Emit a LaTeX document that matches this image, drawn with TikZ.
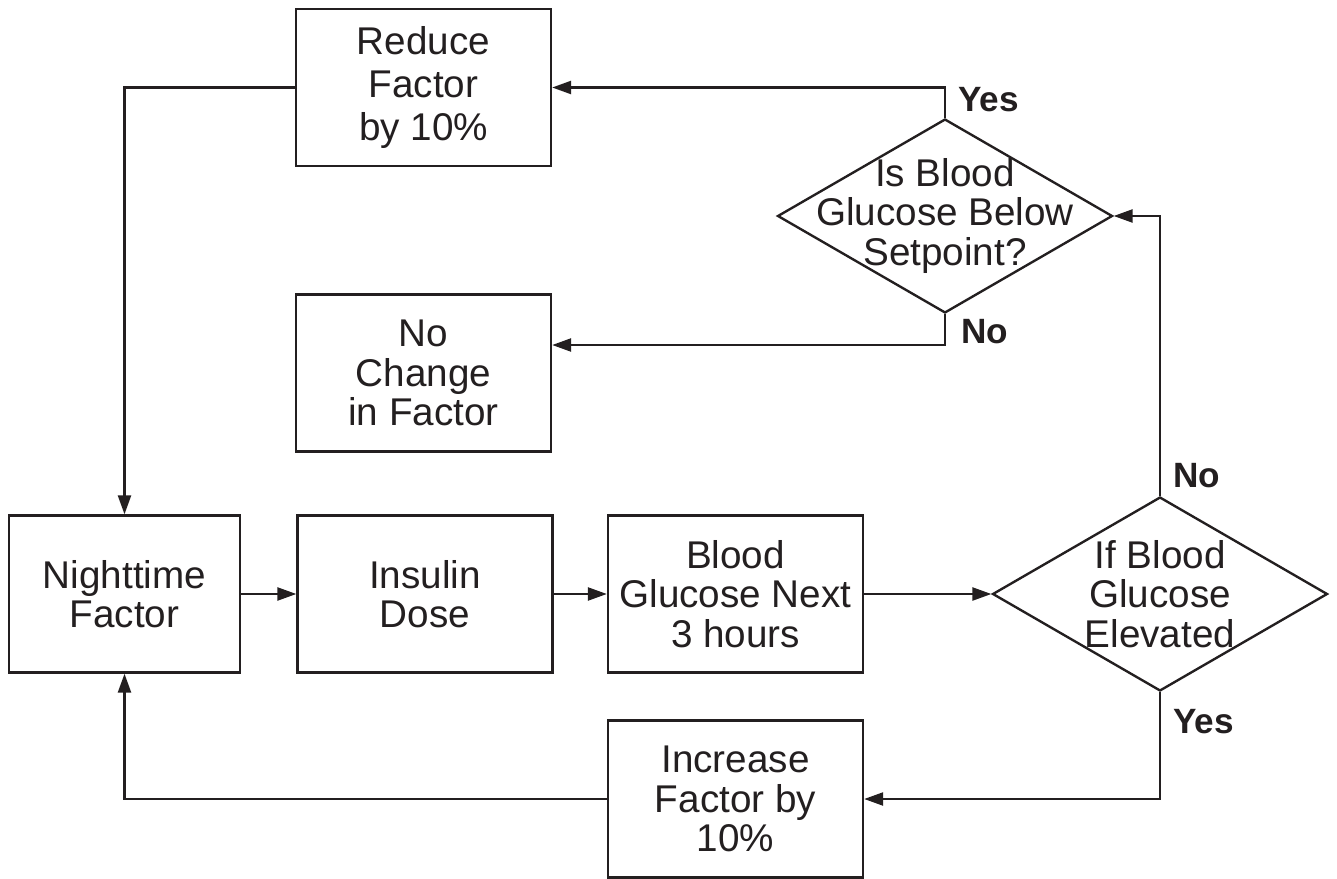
\documentclass[tikz,border=0pt]{standalone}
\usepackage{fontspec}
\setmainfont{Liberation Sans}
\usetikzlibrary{arrows.meta,shapes.geometric}
\definecolor{ink}{HTML}{231F20}
\begin{document}
\begin{tikzpicture}[x=0.02cm,y=-0.02cm,
  line width=1.35pt, draw=ink,
  txt/.style={font=\fontsize{22}{22.5}\selectfont, text=ink, align=center, inner sep=0pt},
  box/.style={draw=ink, line width=1.35pt, rectangle, minimum width=5.1cm, minimum height=3.14cm, txt},
  diam/.style={draw=ink, line width=1.35pt, diamond, minimum width=6.7cm, minimum height=3.88cm, inner sep=0pt, aspect=1.72},
  lbl/.style={font=\fontsize{20}{22.5}\selectfont\bfseries, text=ink, inner sep=0pt, anchor=west},
  arr/.style={draw=ink, line width=1.35pt, -{Triangle[length=0.38cm,width=0.26cm]}},
  ln/.style={draw=ink, line width=1.35pt}
]
\useasboundingbox (0,0) rectangle (1337,878);

\node[box, font=\fontsize{22}{24.5}\selectfont] (reduce) at (423.5,87.5) {Reduce\\Factor\\by 10\%};
\node[box] (nochange) at (423.5,373) {No\\Change\\in Factor};
\node[box, minimum width=4.62cm] (night) at (124.5,594) {Nighttime\\Factor};
\node[box] (insulin) at (425,594) {Insulin\\Dose};
\node[box] (bg) at (735.5,594) {Blood\\Glucose Next\\3 hours};
\node[box] (increase) at (735.5,799) {Increase\\Factor by\\10\%};

\node[diam] (d1) at (945,216) {};
\node[txt] (d1t) at (945,216) {Is Blood\\Glucose Below\\Setpoint?};
\node[diam] (d2) at (1160,594) {};
\node[txt] (d2t) at (1160,594) {If Blood\\Glucose\\Elevated};

\node[lbl] (yes1) at (957,100) {Yes};
\node[lbl] (no1) at (960,332) {No};
\node[lbl] (no2) at (1172,476) {No};
\node[lbl] (yes2) at (1172,722) {Yes};

\draw[arr] (d1.north) |- (reduce.east);
\draw[arr] (d1.south) |- ([yshift=0.56cm]nochange.east);
\draw[arr] (reduce.west) -| (night.north);
\draw[arr] (night.east) -- (insulin.west);
\draw[arr] (insulin.east) -- (bg.west);
\draw[arr] (bg.east) -- (d2.west);
\draw[arr] (d2.north) |- (d1.east);
\draw[arr] (d2.south) |- (increase.east);
\draw[arr] (increase.west) -| (night.south);
\end{tikzpicture}
\end{document}
